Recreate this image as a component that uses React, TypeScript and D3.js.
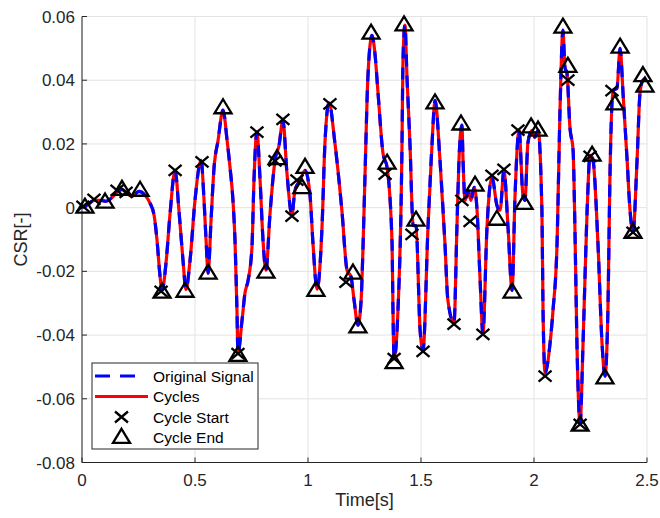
import React from "react";
import * as d3 from "d3";

// Signal samples: time [s] and cyclic stress ratio [-]
const timeS: number[] = [
  0.0, 0.027, 0.053, 0.08, 0.106, 0.133, 0.159, 0.177, 0.195, 0.221, 0.252, 0.279, 0.301, 0.319, 0.332, 0.345,
  0.354, 0.372, 0.389, 0.412, 0.429, 0.447, 0.46, 0.478, 0.5, 0.527, 0.54, 0.549, 0.558, 0.571, 0.584, 0.602,
  0.624, 0.642, 0.655, 0.668, 0.677, 0.686, 0.69, 0.708, 0.721, 0.735, 0.752, 0.761, 0.774, 0.788, 0.801, 0.814,
  0.832, 0.854, 0.872, 0.889, 0.907, 0.929, 0.942, 0.965, 0.987, 1.009, 1.022, 1.04, 1.062, 1.075, 1.093, 1.119,
  1.15, 1.173, 1.19, 1.204, 1.221, 1.235, 1.243, 1.252, 1.265, 1.283, 1.296, 1.31, 1.332, 1.35, 1.372, 1.376,
  1.381, 1.398, 1.416, 1.42, 1.429, 1.438, 1.451, 1.465, 1.478, 1.496, 1.509, 1.531, 1.549, 1.562, 1.584, 1.606,
  1.619, 1.646, 1.659, 1.668, 1.681, 1.686, 1.695, 1.708, 1.721, 1.735, 1.748, 1.761, 1.774, 1.792, 1.814, 1.836,
  1.85, 1.867, 1.885, 1.903, 1.916, 1.934, 1.951, 1.96, 1.973, 1.991, 2.004, 2.018, 2.035, 2.04, 2.049, 2.071,
  2.084, 2.102, 2.115, 2.128, 2.137, 2.146, 2.159, 2.173, 2.181, 2.19, 2.204, 2.217, 2.235, 2.248, 2.261, 2.283,
  2.301, 2.314, 2.327, 2.336, 2.35, 2.367, 2.381, 2.394, 2.412, 2.425, 2.438, 2.456, 2.469, 2.482, 2.496,
];
const csr: number[] = [
  0.0, 0.001, 0.0023, 0.0023, 0.002, 0.0032, 0.0051, 0.0057, 0.0048, 0.0035, 0.0051, 0.0039, 0.0014, -0.0024, -0.0103, -0.0213,
  -0.026, -0.0172, -0.0024, 0.0117, -0.0009, -0.0166, -0.0257, -0.0166, 0.0023, 0.0149, 0.0023, -0.0103, -0.0206, -0.004, 0.0123, 0.0211,
  0.0306, 0.0211, 0.0126, 0.0023, -0.0103, -0.0332, -0.0458, -0.0354, -0.0269, -0.0228, -0.0125, 0.0086, 0.0237, 0.0086, -0.0103, -0.0197,
  -0.0018, 0.0149, 0.0196, 0.0274, 0.0107, -0.0024, 0.0054, 0.0086, 0.0117, 0.0039, -0.0112, -0.0256, -0.0061, 0.0203, 0.0329, 0.0203,
  -0.0009, -0.0197, -0.0216, -0.0291, -0.0369, -0.0291, -0.0134, 0.0095, 0.0409, 0.0541, 0.0485, 0.0359, 0.017, 0.0126, -0.0113, -0.0323,
  -0.0474, -0.0323, 0.0203, 0.0454, 0.0573, 0.0409, 0.0203, -0.0055, -0.0058, -0.0385, -0.0448, -0.0061, 0.0203, 0.0337, 0.0149, -0.0113,
  -0.0291, -0.0363, -0.0061, 0.0149, 0.0259, 0.0149, 0.0023, 0.0054, 0.0023, 0.0064, -0.0008, -0.0219, -0.0395, -0.0061, 0.0096, 0.0007,
  -0.0008, 0.0117, -0.0061, -0.026, 0.0036, 0.0243, 0.0039, 0.0023, 0.0203, 0.0243, 0.0221, 0.0243, -0.0009, -0.0323, -0.0518, -0.0426,
  -0.0323, -0.0113, 0.0305, 0.0557, 0.044, 0.0421, 0.0252, 0.018, -0.0061, -0.0426, -0.0677, -0.0426, -0.0009, 0.0164, 0.0149, -0.0113,
  -0.0426, -0.0529, -0.0323, 0.0095, 0.0368, 0.0375, 0.05, 0.0359, 0.0149, -0.0009, -0.0078, 0.0149, 0.0359, 0.04, 0.0406,
];

// Detected cycle start points
const startT: number[] = [
  0.004, 0.053, 0.155, 0.195, 0.35, 0.412, 0.531, 0.69, 0.774, 0.854, 0.889, 0.929, 0.951, 1.097, 1.168, 1.341,
  1.381, 1.46, 1.509, 1.646, 1.681, 1.717, 1.774, 1.814, 1.867, 1.929, 2.049, 2.15, 2.204, 2.248, 2.345, 2.438,
];
const startV: number[] = [
  0.0004, 0.0026, 0.0054, 0.0048, -0.0263, 0.0117, 0.0144, -0.0458, 0.0237, 0.0147, 0.0277, -0.0027, 0.0086, 0.0326, -0.0234, 0.0105,
  -0.0474, -0.0084, -0.0451, -0.0366, 0.0023, -0.0043, -0.0398, 0.0101, 0.012, 0.0243, -0.0529, 0.04, -0.068, 0.0161, 0.0367, -0.0078,
];

// Detected cycle end points
const endT: number[] = [
  0.013, 0.102, 0.177, 0.257, 0.354, 0.456, 0.558, 0.624, 0.69, 0.814, 0.863, 0.973, 0.987, 1.035, 1.199, 1.221,
  1.279, 1.35, 1.381, 1.425, 1.478, 1.562, 1.677, 1.739, 1.836, 1.903, 1.956, 1.987, 2.018, 2.128, 2.15, 2.204,
  2.257, 2.314, 2.358, 2.381, 2.438, 2.482, 2.491,
];
const endV: number[] = [
  0.0001, 0.0017, 0.0057, 0.0054, -0.0266, -0.0263, -0.0206, 0.0313, -0.0464, -0.0203, 0.0153, 0.0062, 0.0126, -0.026, -0.0206, -0.0375,
  0.0547, 0.0139, -0.0487, 0.0573, -0.004, 0.0328, 0.0262, 0.007, -0.0037, -0.0266, 0.0013, 0.0253, 0.0243, 0.0566, 0.0443, -0.0683,
  0.0164, -0.0535, 0.0325, 0.0503, -0.0078, 0.0414, 0.0381,
];

const xTicks: number[] = [0, 0.5, 1, 1.5, 2, 2.5];
const yTicks: number[] = [-0.08, -0.06, -0.04, -0.02, 0, 0.02, 0.04, 0.06];

const legendItems: string[] = ["Original Signal", "Cycles", "Cycle Start", "Cycle End"];

const W = 660;
const H = 518;
const M = { left: 82, right: 13, top: 16.5, bottom: 55.5 };
const FONT = "'Liberation Sans', Arial, Helvetica, sans-serif";
const AX = "#262626";
const GRID = "#e3e3e3";
const BLUE = "#0000ff";
const RED = "#ff0000";

const trianglePath = (cx: number, cy: number) => {
  const hw = 8.5;
  const h = 14;
  return `M${cx},${cy - h * 0.62}L${cx + hw},${cy + h * 0.38}L${cx - hw},${cy + h * 0.38}Z`;
};
const crossPath = (cx: number, cy: number) => {
  const a = 6.5;
  const b = 5.5;
  return `M${cx - a},${cy - b}L${cx + a},${cy + b}M${cx - a},${cy + b}L${cx + a},${cy - b}`;
};

export default function App() {
  const x = d3.scaleLinear().domain([0, 2.5]).range([M.left, W - M.right]);
  const y = d3.scaleLinear().domain([-0.08, 0.06]).range([H - M.bottom, M.top]);

  const pts: [number, number][] = timeS.map((t, i) => [t, csr[i]]);
  const line = d3
    .line<[number, number]>()
    .x((d) => x(d[0]))
    .y((d) => y(d[1]))
    .curve(d3.curveMonotoneX);
  const pathD = line(pts) || "";

  const x0 = M.left;
  const x1 = W - M.right;
  const y0 = H - M.bottom;
  const y1 = M.top;

  const lg = { x: 92, y: 363, w: 166, h: 86 };
  const rowY = [376, 396.5, 417, 437.5];

  return (
    <svg
      width={W}
      height={H}
      style={{ position: "absolute", left: 0, top: 0, background: "#fff" }}
      fontFamily={FONT}
    >
      <rect x={0} y={0} width={W} height={H} fill="#fff" />
      {/* grid */}
      <g stroke={GRID} strokeWidth={1}>
        {xTicks.map((t) => (
          <line key={"gx" + t} x1={x(t)} x2={x(t)} y1={y0} y2={y1} />
        ))}
        {yTicks.map((t) => (
          <line key={"gy" + t} x1={x0} x2={x1} y1={y(t)} y2={y(t)} />
        ))}
      </g>
      {/* axes */}
      <g stroke={AX} strokeWidth={1}>
        <line x1={x0} x2={x1} y1={y0} y2={y0} />
        <line x1={x0} x2={x0} y1={y0} y2={y1} />
        {xTicks.map((t) => (
          <line key={"tx" + t} x1={x(t)} x2={x(t)} y1={y0} y2={y0 - 5} />
        ))}
        {yTicks.map((t) => (
          <line key={"ty" + t} x1={x0} x2={x0 + 5} y1={y(t)} y2={y(t)} />
        ))}
      </g>
      <g fill={AX} fontSize={17}>
        {xTicks.map((t) => (
          <text key={"lx" + t} x={x(t)} y={y0 + 23} textAnchor="middle">
            {String(t)}
          </text>
        ))}
        {yTicks.map((t) => (
          <text key={"ly" + t} x={x0 - 7} y={y(t) + 6} textAnchor="end">
            {t === 0 ? "0" : t.toFixed(2)}
          </text>
        ))}
      </g>
      <text x={(x0 + x1) / 2} y={506} textAnchor="middle" fontSize={18} fill={AX}>
        Time[s]
      </text>
      <text
        transform={`translate(27,${(y0 + y1) / 2}) rotate(-90)`}
        textAnchor="middle"
        fontSize={18}
        fill={AX}
      >
        CSR[-]
      </text>

      {/* signal */}
      <path d={pathD} fill="none" stroke={RED} strokeWidth={3.2} strokeLinejoin="round" />
      <path d={pathD} fill="none" stroke={BLUE} strokeWidth={3.2} strokeDasharray="12,9" />

      {/* markers */}
      <g fill="none" stroke="#000" strokeWidth={2.3}>
        {startT.map((t, i) => (
          <path key={"s" + i} d={crossPath(x(t), y(startV[i]))} />
        ))}
        {endT.map((t, i) => (
          <path key={"e" + i} d={trianglePath(x(t), y(endV[i]))} strokeLinejoin="miter" />
        ))}
      </g>

      {/* legend */}
      <rect x={lg.x} y={lg.y} width={lg.w} height={lg.h} fill="#fff" stroke={AX} strokeWidth={1} />
      <line x1={95} x2={136} y1={rowY[0]} y2={rowY[0]} stroke={BLUE} strokeWidth={3.2} strokeDasharray="15,10" />
      <line x1={95} x2={148} y1={rowY[1]} y2={rowY[1]} stroke={RED} strokeWidth={3.2} />
      <path d={crossPath(121.5, rowY[2])} stroke="#000" strokeWidth={2.3} fill="none" />
      <path d={trianglePath(121.5, rowY[3])} stroke="#000" strokeWidth={2.3} fill="none" />
      <g fontSize={15.5} fill="#000">
        {legendItems.map((s, i) => (
          <text key={s} x={153} y={rowY[i] + 5.5}>
            {s}
          </text>
        ))}
      </g>
    </svg>
  );
}
